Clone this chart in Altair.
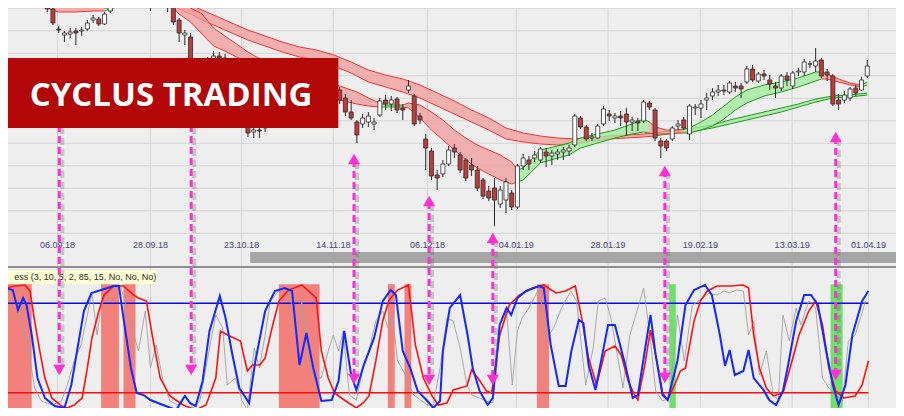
import altair as alt
import pandas as pd

# ---------------- values ----------------
# daily candles, trading-day index 0..150 (price units)
opens = [13300, 13280, 13240, 13260, 13200, 13160, 13120, 12980, 12910, 12710,
         12650, 12660, 12690, 12690, 12710, 12800, 12810, 12760, 12890, 12940,
         12980, 13040, 13080, 13060, 13100, 13030, 12980, 13000, 12980, 12940,
         12800, 12650, 12630, 12380, 12300, 12340, 12400, 12440, 12420, 12360,
         12180, 12000, 11820, 11680, 11700, 11720, 11800, 11850, 11900, 11880,
         11950, 12000, 11980, 12020, 12000, 12050, 12030, 12080, 12100, 12020,
         11880, 11780, 11760, 11780, 11760, 11850, 12000, 11960, 12010, 11920,
         12100, 12040, 11840, 11610, 11490, 11250, 11260, 11360, 11520, 11450,
         11400, 11350, 11300, 11200, 11090, 11120, 10960, 11000, 11070, 10930,
         11340, 11400, 11420, 11400, 11480, 11440, 11460, 11480, 11490, 11550,
         11820, 11730, 11620, 11620, 11760, 11860, 11820, 11840, 11860, 11780,
         11790, 11790, 11970, 11900, 11590, 11590, 11610, 11740, 11800, 11660,
         11920, 11920, 12000, 12040, 12080, 12100, 12080, 12140, 12140, 12180,
         12310, 12190, 12260, 12200, 12140, 12120, 12240, 12140, 12280, 12280,
         12360, 12340, 12400, 12280, 12240, 12000, 12000, 12020, 12120, 12100,
         12240]
highs = [13360, 13340, 13300, 13320, 13260, 13220, 13180, 13040, 12930, 12740,
         12690, 12720, 12720, 12730, 12800, 12850, 12830, 12880, 12970, 13020,
         13080, 13120, 13120, 13140, 13120, 13060, 13040, 13030, 13020, 12960,
         12820, 12700, 12670, 12420, 12380, 12430, 12490, 12480, 12460, 12400,
         12220, 12040, 11880, 11740, 11740, 11850, 11900, 11950, 11960, 12000,
         12050, 12050, 12080, 12070, 12100, 12100, 12120, 12120, 12130, 12060,
         12000, 11800, 11860, 11880, 11820, 12020, 12050, 12040, 12030, 11960,
         12200, 12060, 11870, 11660, 11520, 11300, 11400, 11540, 11560, 11480,
         11420, 11420, 11340, 11220, 11140, 11220, 11140, 11220, 11100, 11360,
         11460, 11440, 11490, 11530, 11520, 11500, 11510, 11530, 11550, 11860,
         11840, 11750, 11670, 11760, 11940, 11900, 11870, 11890, 11920, 11830,
         11820, 12000, 11990, 11920, 11620, 11610, 11740, 11800, 11830, 11960,
         11960, 12000, 12070, 12120, 12150, 12150, 12190, 12180, 12170, 12340,
         12350, 12280, 12300, 12250, 12180, 12260, 12280, 12290, 12320, 12410,
         12390, 12520, 12420, 12310, 12260, 12060, 12090, 12130, 12150, 12230,
         12400]
lows = [13220, 13200, 13180, 13180, 13120, 13080, 13040, 12880, 12750, 12670,
        12580, 12620, 12550, 12640, 12690, 12770, 12740, 12750, 12870, 12920,
        12960, 13010, 13020, 13030, 13000, 12890, 12940, 12930, 12880, 12750,
        12580, 12550, 12340, 12250, 12240, 12300, 12360, 12360, 12320, 12160,
        11960, 11820, 11630, 11620, 11620, 11680, 11750, 11800, 11820, 11840,
        11900, 11920, 11940, 11950, 11960, 11980, 12000, 12000, 11960, 11840,
        11800, 11570, 11720, 11730, 11700, 11830, 11900, 11890, 11870, 11800,
        12070, 11740, 11760, 11300, 11200, 11100, 11230, 11340, 11420, 11270,
        11190, 11240, 11090, 11010, 10990, 10740, 10920, 10870, 10900, 10910,
        11300, 11300, 11380, 11370, 11330, 11350, 11400, 11400, 11440, 11530,
        11710, 11590, 11590, 11610, 11740, 11790, 11770, 11740, 11640, 11690,
        11690, 11770, 11900, 11590, 11420, 11490, 11590, 11700, 11700, 11600,
        11850, 11820, 11900, 12000, 12040, 12050, 12060, 12080, 12020, 12160,
        12180, 12170, 12200, 12100, 12020, 12090, 12140, 12110, 12240, 12240,
        12320, 12280, 12220, 12190, 11940, 11900, 11970, 11990, 12040, 12090,
        12220]
closes = [13280, 13240, 13260, 13200, 13160, 13120, 13060, 12910, 12770, 12700,
          12670, 12680, 12670, 12700, 12770, 12820, 12760, 12860, 12940, 12980,
          13040, 13080, 13060, 13100, 13040, 12970, 13000, 12960, 12940, 12780,
          12670, 12670, 12380, 12300, 12340, 12400, 12440, 12420, 12380, 12200,
          12000, 11880, 11670, 11700, 11690, 11800, 11850, 11900, 11880, 11950,
          12000, 11980, 12020, 12000, 12050, 12030, 12080, 12040, 12000, 11880,
          11820, 11650, 11820, 11840, 11780, 11990, 11960, 12000, 11900, 11900,
          12140, 11760, 11800, 11520, 11240, 11220, 11360, 11500, 11480, 11300,
          11220, 11300, 11120, 11040, 11020, 11000, 11100, 11180, 10930, 11340,
          11420, 11360, 11450, 11510, 11440, 11470, 11480, 11500, 11520, 11840,
          11730, 11610, 11630, 11740, 11910, 11840, 11840, 11820, 11780, 11800,
          11770, 11980, 11930, 11620, 11540, 11520, 11720, 11760, 11720, 11940,
          11930, 11960, 12020, 12080, 12100, 12090, 12170, 12120, 12110, 12310,
          12200, 12260, 12240, 12160, 12120, 12240, 12200, 12270, 12290, 12380,
          12360, 12390, 12240, 12250, 11960, 11960, 12050, 12110, 12070, 12200,
          12340]

# moving-average ribbons: (day, upper, lower, state r=falling / g=rising)
fast_ribbon = [(7, 13100, 12920, 'r'), (9, 13060, 12880, 'r'), (12, 13020, 12880, 'r'),
               (15, 12970, 12890, 'r'), (17, 12920, 12890, 'r'), (18, 12920, 12910, 'g'),
               (20, 12960, 12950, 'g'), (22, 12990, 12980, 'g'), (24, 13010, 13000, 'g'),
               (26, 13020, 13010, 'g'), (28, 13010, 12980, 'r'), (30, 12980, 12860, 'r'),
               (32, 12920, 12780, 'r'), (34, 12860, 12660, 'r'), (36, 12720, 12540, 'r'),
               (38, 12640, 12490, 'r'), (40, 12560, 12430, 'r'), (42, 12480, 12380, 'r'),
               (45, 12380, 12250, 'r'), (50, 12280, 12150, 'r'), (55, 12200, 12070, 'r'),
               (58, 12140, 12000, 'r'), (61, 12080, 11960, 'r'), (63, 12020, 11940, 'r'),
               (65, 11970, 11930, 'r'), (66, 11950, 11930, 'g'), (68, 11950, 11930, 'g'),
               (69, 11950, 11930, 'g'), (70, 11970, 11920, 'r'), (72, 11950, 11820, 'r'),
               (74, 11880, 11700, 'r'), (76, 11800, 11600, 'r'), (78, 11700, 11500, 'r'),
               (80, 11620, 11400, 'r'), (82, 11550, 11320, 'r'), (84, 11500, 11260, 'r'),
               (86, 11450, 11200, 'r'), (88, 11380, 11160, 'r'), (89, 11300, 11180, 'r'),
               (90, 11320, 11200, 'g'), (93, 11500, 11370, 'g'), (96, 11540, 11420, 'g'),
               (98, 11570, 11450, 'g'), (100, 11620, 11520, 'g'), (103, 11660, 11570, 'g'),
               (106, 11700, 11620, 'g'), (109, 11760, 11660, 'g'), (111, 11810, 11680, 'g'),
               (112, 11780, 11670, 'g'), (113, 11730, 11660, 'r'), (115, 11700, 11660, 'r'),
               (117, 11700, 11670, 'r'), (118, 11710, 11670, 'r'), (119, 11720, 11670, 'g'),
               (121, 11780, 11700, 'g'), (123, 11850, 11740, 'g'), (125, 11940, 11810, 'g'),
               (127, 12030, 11900, 'g'), (129, 12100, 11970, 'g'), (132, 12150, 12040, 'g'),
               (135, 12180, 12080, 'g'), (138, 12220, 12130, 'g'), (141, 12280, 12190, 'g'),
               (142, 12280, 12210, 'g'), (143, 12260, 12210, 'r'), (145, 12210, 12180, 'r'),
               (147, 12170, 12150, 'r'), (149, 12150, 12130, 'r'), (150, 12180, 12150, 'g')]
slow_ribbon = [(24, 13140, 13060, 'r'), (28, 13030, 12960, 'r'), (30, 12990, 12910, 'r'),
               (32, 12950, 12860, 'r'), (34, 12900, 12800, 'r'), (36, 12850, 12750, 'r'),
               (38, 12800, 12700, 'r'), (40, 12750, 12650, 'r'), (42, 12700, 12600, 'r'),
               (45, 12640, 12540, 'r'), (48, 12580, 12480, 'r'), (51, 12530, 12430, 'r'),
               (54, 12500, 12400, 'r'), (57, 12450, 12340, 'r'), (60, 12380, 12270, 'r'),
               (63, 12300, 12180, 'r'), (66, 12250, 12130, 'r'), (69, 12210, 12080, 'r'),
               (72, 12150, 12020, 'r'), (75, 12070, 11940, 'r'), (78, 11990, 11860, 'r'),
               (81, 11900, 11780, 'r'), (84, 11820, 11700, 'r'), (87, 11720, 11610, 'r'),
               (90, 11670, 11580, 'r'), (93, 11640, 11560, 'r'), (96, 11620, 11550, 'r'),
               (99, 11610, 11560, 'r'), (102, 11630, 11590, 'r'), (105, 11640, 11610, 'r'),
               (108, 11650, 11620, 'r'), (111, 11660, 11630, 'r'), (113, 11670, 11640, 'r'),
               (114, 11680, 11650, 'g'), (117, 11700, 11670, 'g'), (120, 11720, 11690, 'g'),
               (123, 11750, 11720, 'g'), (126, 11800, 11760, 'g'), (129, 11840, 11800, 'g'),
               (132, 11880, 11840, 'g'), (135, 11920, 11880, 'g'), (138, 11960, 11930, 'g'),
               (141, 12010, 11980, 'g'), (144, 12040, 12020, 'g'), (147, 12050, 12030, 'g'),
               (150, 12070, 12050, 'g')]

# oscillator (0..100): (day, value)
blue_line = [(-0.3, 97.0), (1.0, 95.4), (1.9, 79.8), (2.8, 89.2), (3.4, 83.7), (4.3, 60.2), (5.3, 26.5),
             (6.6, 10.9), (8.3, 4.6), (10.0, 3.1), (11.2, 21.1), (12.2, 47.7), (13.4, 79.0), (14.7, 93.1),
             (16.4, 95.4), (18.6, 98.6), (19.5, 98.6), (20.3, 73.5), (21.6, 34.4), (22.6, 14.8), (23.8, 13.2),
             (25.0, 9.3), (27.2, 5.4), (29.5, 1.5), (31.0, 12.5), (31.9, 7.0), (32.9, 4.6), (34.1, 24.2),
             (35.3, 63.4), (37.1, 90.8), (38.1, 73.5), (39.3, 44.6), (40.5, 18.7), (42.2, 7.0), (43.3, 39.9),
             (45.0, 79.0), (46.7, 94.7), (48.4, 97.0), (49.7, 94.7), (51.0, 36.7), (52.2, 61.8), (53.4, 34.4),
             (54.8, 8.5), (56.6, 9.3), (57.8, 24.2), (58.8, 63.4), (60.0, 28.9), (60.9, 17.2), (62.2, 36.7),
             (64.0, 57.9), (65.5, 86.8), (66.9, 95.4), (67.8, 91.5), (69.0, 47.7), (70.3, 34.4), (71.6, 16.4),
             (73.3, 8.5), (74.3, 3.1), (75.5, 8.5), (76.0, 47.7), (77.2, 81.4), (79.0, 91.5), (80.3, 60.2),
             (81.2, 34.4), (82.4, 16.4), (83.8, 5.4), (84.7, 10.9), (85.9, 68.1), (87.1, 81.4), (87.9, 75.9),
             (89.0, 89.2), (90.5, 94.7), (92.8, 98.6), (93.6, 97.0), (94.8, 52.4), (96.2, 20.3), (97.4, 20.3),
             (98.4, 47.7), (99.7, 72.0), (100.5, 69.6), (101.4, 36.7), (102.6, 17.2), (104.8, 68.1),
             (106.0, 68.1), (107.8, 36.7), (109.1, 10.9), (110.0, 13.2), (111.2, 47.7), (112.2, 75.9),
             (113.1, 44.6), (114.3, 13.2), (115.2, 9.3), (116.9, 39.9), (118.3, 83.7), (119.8, 95.4),
             (121.7, 99.4), (122.9, 91.5), (124.3, 60.2), (125.2, 35.9), (126.0, 48.5), (126.9, 28.9),
             (128.4, 32.0), (129.3, 48.5), (130.2, 26.5), (131.9, 17.2), (132.9, 9.3), (134.1, 5.4),
             (135.3, 16.4), (136.2, 36.7), (137.6, 71.2), (139.0, 91.5), (140.2, 91.5), (141.4, 83.7),
             (142.8, 48.5), (144.0, 21.1), (145.0, 5.4), (146.2, 21.1), (147.4, 60.2), (149.1, 86.8),
             (150.2, 94.7)]
red_line = [(-0.3, 97.0), (1.4, 98.6), (3.1, 99.4), (4.0, 94.7), (4.8, 71.2), (5.7, 47.7), (6.6, 26.5),
            (7.8, 10.9), (9.5, 4.6), (10.5, 3.1), (11.7, 5.4), (13.1, 10.9), (14.0, 34.4), (14.8, 57.9),
            (16.0, 79.0), (16.9, 91.5), (18.6, 98.6), (20.3, 98.6), (22.1, 91.5), (22.9, 89.2), (24.3, 86.8),
            (25.5, 55.5), (26.7, 26.5), (28.4, 12.5), (30.7, 5.4), (32.9, 1.5), (34.7, 5.4), (36.4, 26.5),
            (37.2, 63.4), (38.8, 59.4), (40.7, 55.5), (41.9, 32.0), (42.8, 36.7), (44.1, 36.7), (45.0, 42.2),
            (46.2, 65.7), (47.4, 86.8), (49.1, 95.4), (51.4, 99.4), (53.9, 89.2), (54.8, 47.7), (56.0, 26.5),
            (57.1, 14.8), (58.8, 9.3), (60.9, 3.1), (62.1, 7.0), (63.1, 12.5), (64.3, 39.9), (65.5, 71.2),
            (66.6, 87.6), (68.1, 95.4), (70.0, 99.4), (71.2, 52.4), (72.6, 26.5), (74.1, 12.5), (75.2, 5.4),
            (76.7, 7.0), (77.8, 17.2), (80.2, 20.3), (81.0, 32.8), (82.1, 26.5), (83.6, 16.4), (84.5, 14.8),
            (85.9, 60.2), (87.6, 83.7), (89.3, 91.5), (91.6, 97.0), (93.6, 99.4), (95.7, 93.1), (97.4, 94.7),
            (99.1, 98.6), (100.2, 73.5), (101.4, 42.2), (102.8, 21.1), (104.3, 47.7), (106.0, 51.6),
            (107.1, 44.6), (108.3, 24.2), (109.5, 12.5), (110.0, 9.3), (111.2, 36.7), (112.2, 64.1),
            (113.1, 44.6), (114.3, 14.8), (115.2, 9.3), (116.4, 21.1), (117.4, 32.0), (118.3, 34.4),
            (119.8, 71.2), (120.9, 86.8), (122.1, 94.7), (123.8, 98.6), (126.0, 98.6), (128.4, 99.4),
            (129.3, 97.0), (130.2, 60.2), (131.2, 34.4), (132.4, 18.7), (133.6, 12.5), (135.3, 14.8),
            (136.4, 32.0), (138.1, 60.2), (139.8, 79.0), (141.0, 86.8), (142.2, 68.1), (143.3, 34.4),
            (144.5, 16.4), (145.9, 10.9), (147.9, 12.5), (149.1, 21.1), (150.2, 39.9)]
grey_line = [(-0.3, 97.0), (1.9, 83.7), (3.6, 52.4), (4.8, 18.7), (6.0, 8.5), (7.8, 5.4), (9.5, 8.5),
             (10.5, 21.1), (11.7, 39.9), (12.9, 52.4), (14.0, 75.9), (14.8, 93.1), (15.7, 60.2), (16.4, 83.7),
             (18.6, 97.0), (19.8, 98.6), (21.6, 68.1), (22.9, 47.7), (24.1, 79.0), (25.0, 34.4), (26.0, 52.4),
             (27.2, 24.2), (28.4, 8.5), (29.8, 5.4), (31.0, 13.2), (32.4, 3.1), (33.6, 8.5), (35.3, 50.0),
             (36.4, 75.9), (37.6, 65.7), (38.4, 21.1), (39.8, 26.5), (41.0, 8.5), (41.9, 1.5), (43.1, 50.0),
             (44.0, 34.4), (45.0, 60.2), (45.9, 86.8), (47.4, 94.7), (49.1, 97.0), (50.5, 60.2), (51.4, 86.8),
             (52.6, 39.9), (53.6, 26.5), (54.8, 26.5), (56.0, 47.7), (56.9, 60.2), (57.8, 47.7), (58.6, 63.4),
             (59.7, 13.2), (60.9, 9.3), (62.1, 34.4), (63.1, 47.7), (64.3, 71.2), (65.5, 79.0), (66.4, 65.7),
             (67.2, 75.9), (68.1, 39.9), (69.1, 32.0), (70.9, 13.2), (72.1, 9.3), (73.3, 5.4), (74.3, 5.4),
             (75.5, 34.4), (76.7, 73.5), (77.8, 71.2), (79.0, 50.0), (80.2, 21.1), (81.0, 13.2), (82.4, 10.9),
             (83.6, 8.5), (84.7, 7.0), (85.9, 60.2), (87.1, 79.0), (88.1, 21.1), (89.0, 63.4), (89.8, 73.5),
             (91.0, 81.4), (92.8, 97.0), (94.1, 57.9), (95.3, 65.7), (96.7, 81.4), (98.3, 94.7), (99.3, 86.8),
             (100.9, 21.1), (102.2, 50.0), (103.1, 86.8), (104.3, 89.2), (105.3, 73.5), (106.6, 39.9),
             (107.4, 18.7), (108.6, 60.2), (110.0, 81.4), (111.0, 97.0), (112.1, 60.2), (113.1, 16.4),
             (114.3, 8.5), (115.5, 10.9), (116.9, 75.9), (118.1, 39.9), (119.5, 83.7), (120.9, 87.6),
             (122.4, 93.1), (123.8, 91.5), (125.0, 94.7), (126.0, 93.1), (127.2, 95.4), (128.4, 94.7),
             (129.3, 60.2), (130.2, 71.2), (131.2, 28.9), (132.4, 47.7), (133.6, 13.2), (134.5, 9.3),
             (135.3, 75.9), (136.4, 55.5), (137.6, 81.4), (138.4, 68.1), (139.8, 86.8), (141.0, 81.4),
             (142.2, 26.5), (143.3, 18.7), (144.5, 13.2), (145.7, 8.5), (146.7, 55.5), (147.9, 60.2),
             (149.7, 86.8)]

red_zones = [(-0.5, 4.3), (16.4, 19.5), (20.3, 22.4), (47.4, 54.5), (66.4, 67.6), (69.3, 70.5), (92.4, 94.5)]
green_zones = [(115.5, 116.6), (143.6, 145.7)]
level_high, level_low = 85, 15
osc_first_day, osc_last_day = -0.3, 150.2

date_labels = ['06.09.18', '28.09.18', '23.10.18', '14.11.18', '06.12.18',
               '04.01.19', '28.01.19', '19.02.19', '13.03.19', '01.04.19']
date_days = [8.8, 25.0, 40.9, 56.9, 73.3, 88.8, 104.8, 120.9, 136.9, 150.2]
price_grid = [12917, 12692, 12467, 12242, 12017, 11792, 11567, 11342, 11117, 10892, 10667]

# annotation arrows (day, top price, bottom price)
arrow_days = [9.1, 32.1, 60.5, 73.6, 84.7, 114.7, 144.5]
arrow_top = [11750, 11750, 11400, 10980, 10620, 11300, 11630]
arrow_bottom = [9320, 9320, 9220, 9220, 9210, 9230, 9260]
up_head_days = [60.5, 73.6, 84.7, 114.7, 144.5]
up_head_price = [11410, 10990, 10620, 11290, 11630]
down_head_price = [9300, 9300, 9210, 9200, 9200, 9220, 9250]

banner_text = 'CYCLUS TRADING'
study_label = 'ess  (3, 10, 5, 2, 85, 15, No, No, No)'

# ---------------- scales (chart = 888 x 400 px) ----------------
xs = alt.Scale(domain=[1.034, 154.14], nice=False, zero=False)
ps = alt.Scale(domain=[8920, 12920], nice=False, zero=False)
osc = alt.Scale(domain=[3.05, 316.3], nice=False, zero=False)


def X(f):
    return alt.X(f + ':Q', scale=xs, axis=None)


def YP(f):
    return alt.Y(f + ':Q', scale=ps, axis=None)


def YO(f):
    return alt.Y(f + ':Q', scale=osc, axis=None)


def ribbon_frame(points, name):
    rows, seg, prev = [], 0, None
    for d, up, lo, st in points:
        if prev is not None and st != prev[3]:
            seg += 1
            rows.append({'x': prev[0], 'up': prev[1], 'lo': prev[2], 'st': st, 'seg': f'{name}{seg}'})
        rows.append({'x': d, 'up': up, 'lo': lo, 'st': st, 'seg': f'{name}{seg}'})
        prev = (d, up, lo, st)
    return pd.DataFrame(rows)


layers = []

# grid
layers.append(alt.Chart(pd.DataFrame({'x': date_days})).mark_rule(color='#d5d5d5', strokeWidth=1)
              .encode(x=X('x')))
layers.append(alt.Chart(pd.DataFrame({'p': price_grid})).mark_rule(color='#d5d5d5', strokeWidth=1)
              .encode(y=YP('p')))

# ribbons
for pts, nm in [(slow_ribbon, 's'), (fast_ribbon, 'f')]:
    rf = ribbon_frame(pts, nm)
    layers.append(alt.Chart(rf).mark_area(opacity=0.75, clip=True).encode(
        x=X('x'), y=YP('up'), y2='lo', detail='seg:N',
        color=alt.condition("datum.st == 'r'", alt.value('#f29b9b'), alt.value('#9fec98'))))
    for edge in ['up', 'lo']:
        layers.append(alt.Chart(rf).mark_line(strokeWidth=1, clip=True).encode(
            x=X('x'), y=YP(edge), detail='seg:N',
            color=alt.condition("datum.st == 'r'", alt.value('#ff3030'), alt.value('#1f9a1f'))))

# candles
candles = pd.DataFrame({'x': list(range(len(opens))), 'o': opens, 'h': highs, 'l': lows, 'c': closes})
layers.append(alt.Chart(candles).mark_rule(color='#2a2a2a', strokeWidth=1, clip=True)
              .encode(x=X('x'), y=YP('l'), y2='h'))
layers.append(alt.Chart(candles).mark_bar(width=4, stroke='#2a2a2a', strokeWidth=0.8, clip=True)
              .encode(x=X('x'), y=YP('o'), y2='c',
                      color=alt.condition('datum.c >= datum.o', alt.value('#ffffff'), alt.value('#c23b3b'))))

# oscillator zones
for zones, col in [(red_zones, '#f2817c'), (green_zones, '#6fe06a')]:
    zf = pd.DataFrame(zones, columns=['x0', 'x1'])
    zf['lo'] = 0
    zf['hi'] = 100
    layers.append(alt.Chart(zf).mark_rect(color=col, opacity=1, clip=True)
                  .encode(x=X('x0'), x2='x1', y=YO('lo'), y2='hi'))

# level lines
for lvl, col in [(level_high, '#0a0aee'), (level_low, '#ff0a0a')]:
    lf = pd.DataFrame({'x0': [osc_first_day], 'x1': [osc_last_day], 'v': [lvl]})
    layers.append(alt.Chart(lf).mark_rule(color=col, strokeWidth=1.5, clip=True)
                  .encode(x=X('x0'), x2='x1', y=YO('v')))

# oscillator lines
for pts, col, w in [(grey_line, '#a2a2a2', 0.9), (red_line, '#ff1212', 1.6), (blue_line, '#1428ff', 2.0)]:
    of = pd.DataFrame(pts, columns=['x', 'v'])
    layers.append(alt.Chart(of).mark_line(color=col, strokeWidth=w, clip=True).encode(x=X('x'), y=YO('v')))

# scrollbar / separator
layers.append(alt.Chart(pd.DataFrame({'x0': [42.4], 'x1': [160], 'y0': [10480], 'y1': [10370]}))
              .mark_rect(color='#a5a5a5', clip=True).encode(x=X('x0'), x2='x1', y=YP('y0'), y2='y1'))
layers.append(alt.Chart(pd.DataFrame({'p': [10330]})).mark_rule(color='#8e8e8e', strokeWidth=2)
              .encode(y=YP('p')))

# date labels
layers.append(alt.Chart(pd.DataFrame({'x': date_days, 'p': [10550] * len(date_days), 't': date_labels}))
              .mark_text(font='Liberation Sans', fontSize=9, color='#46467a', align='center', baseline='middle')
              .encode(x=X('x'), y=YP('p'), text='t:N'))

# study label
layers.append(alt.Chart(pd.DataFrame({'x0': [-3], 'x1': [26.0], 'y0': [10295], 'y1': [10160]}))
              .mark_rect(color='#ffffd6', clip=True).encode(x=X('x0'), x2='x1', y=YP('y0'), y2='y1'))
layers.append(alt.Chart(pd.DataFrame({'x': [1.25], 'p': [10228], 't': [study_label]}))
              .mark_text(font='Liberation Sans', fontSize=9, color='#2a2a2a', align='left', baseline='middle')
              .encode(x=X('x'), y=YP('p'), text='t:N'))

# arrows
af = pd.DataFrame({'x': arrow_days, 'top': arrow_top, 'bot': arrow_bottom, 'dh': down_head_price})
layers.append(alt.Chart(af).mark_rule(color='#666666', opacity=0.3, strokeWidth=4, strokeDash=[7, 4],
                                      xOffset=3, yOffset=2)
              .encode(x=X('x'), y=YP('top'), y2='bot'))
layers.append(alt.Chart(af).mark_rule(color='#ff2fd6', strokeWidth=3, strokeDash=[7, 4])
              .encode(x=X('x'), y=YP('top'), y2='bot'))
layers.append(alt.Chart(af).mark_point(shape='triangle-down', filled=True, size=144, color='#ff2fd6', opacity=1)
              .encode(x=X('x'), y=YP('dh')))
uf = pd.DataFrame({'x': up_head_days, 'p': up_head_price})
layers.append(alt.Chart(uf).mark_point(shape='triangle-up', filled=True, size=144, color='#ff2fd6', opacity=1)
              .encode(x=X('x'), y=YP('p')))

# banner
layers.append(alt.Chart(pd.DataFrame({'x0': [-3], 'x1': [57.76], 'y0': [12420], 'y1': [11720]}))
              .mark_rect(color='#b30606', clip=True).encode(x=X('x0'), x2='x1', y=YP('y0'), y2='y1'))
layers.append(alt.Chart(pd.DataFrame({'x': [28.6], 'p': [12045], 't': [banner_text]}))
              .mark_text(font='Open Sans', fontWeight='bold', fontSize=33, color='white',
                         align='center', baseline='middle')
              .encode(x=X('x'), y=YP('p'), text='t:N'))

chart = (alt.layer(*layers)
         .resolve_scale(y='independent')
         .properties(width=888, height=400, autosize=alt.AutoSizeParams(type='none'), padding=0,
                     background='#eeeeee')
         .configure_view(stroke=None))

chart.save('out.html', embed_options={'renderer': 'svg', 'actions': False})
